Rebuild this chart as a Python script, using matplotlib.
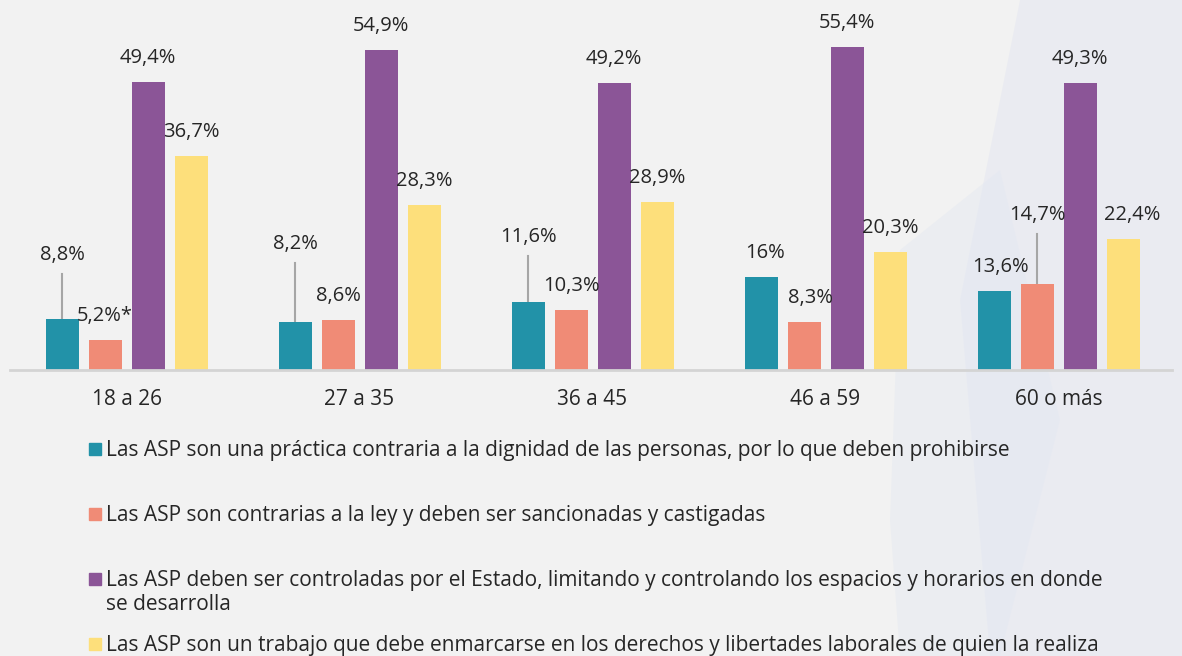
import matplotlib

matplotlib.use("Agg")
import matplotlib.pyplot as plt  # noqa: E402
import numpy as np  # noqa: E402
from matplotlib.patches import Rectangle  # noqa: E402

plt.rcParams["font.family"] = ["Open Sans", "DejaVu Sans"]

groups = ["18 a 26", "27 a 35", "36 a 45", "46 a 59", "60 o más"]
dignidad = [8.8, 8.2, 11.6, 16.0, 13.6]
ley = [5.2, 8.6, 10.3, 8.3, 14.7]
estado = [49.4, 54.9, 49.2, 55.4, 49.3]
trabajo = [36.7, 28.3, 28.9, 20.3, 22.4]
labels = [
    ["8,8%", "8,2%", "11,6%", "16%", "13,6%"],
    ["5,2%*", "8,6%", "10,3%", "8,3%", "14,7%"],
    ["49,4%", "54,9%", "49,2%", "55,4%", "49,3%"],
    ["36,7%", "28,3%", "28,9%", "20,3%", "22,4%"],
]
legend_text = [
    "Las ASP son una práctica contraria a la dignidad de las personas, por lo que deben prohibirse",
    "Las ASP son contrarias a la ley y deben ser sancionadas y castigadas",
    "Las ASP deben ser controladas por el Estado, limitando y controlando los espacios y horarios en donde\nse desarrolla",
    "Las ASP son un trabajo que debe enmarcarse en los derechos y libertades laborales de quien la realiza",
]
colors = ["#2292a8", "#f08b76", "#8b5597", "#fddf7b"]
series = [dignidad, ley, estado, trabajo]

# labels lifted with a leader line: (series, group) -> pixel lift
raised = {(0, 0): 64, (0, 1): 78, (0, 2): 65, (1, 4): 69}
shifted = {(0, 4): 6, (3, 4): 9, (0, 3): 4, (1, 3): 6}

W, H = 1182, 656
fig = plt.figure(figsize=(W / 100, H / 100), dpi=100)
fig.patch.set_facecolor("#f2f2f2")

# faint watermark shapes in the background
bg = fig.add_axes([0, 0, 1, 1], zorder=-5)
bg.set_xlim(0, W)
bg.set_ylim(H, 0)
bg.axis("off")
bg.add_patch(plt.Polygon([[1020, 0], [1182, 0], [1182, 656], [990, 656], [960, 300]],
                         color="#e2e4f0", alpha=0.45, lw=0))
bg.add_patch(plt.Polygon([[890, 520], [900, 250], [1000, 170], [1060, 420], [1000, 656], [900, 656]],
                         color="#e3e8f1", alpha=0.45, lw=0))

ax = fig.add_axes([10 / W, 1 - 370 / H, 1162 / W, 370 / H])
ax.set_facecolor("none")
x = np.arange(len(groups))
offs = np.array([-64.5, -21.5, 21.5, 64.5]) / 233
bw = 33 / 233
ppu = 370 / 63.46  # pixels per percent unit

for i, (vals, c) in enumerate(zip(series, colors)):
    ax.bar(x + offs[i], vals, width=bw, color=c, zorder=2)
    for j, v in enumerate(vals):
        xc = x[j] + offs[i]
        lift = raised.get((i, j), 24)
        ax.annotate(labels[i][j], (xc, v), xytext=(shifted.get((i, j), 0), lift),
                    textcoords="offset pixels", ha="center", va="center",
                    fontsize=14.5, color="#262626", zorder=4)
        if (i, j) in raised:
            ax.plot([xc, xc], [v, v + (lift - 19) / ppu], color="#a6a6a6",
                    lw=1.5, zorder=1)

ax.set_xlim(-0.5, 4.487)
ax.set_ylim(0, 63.46)
ax.set_yticks([])
ax.set_xticks(x)
ax.set_xticklabels(groups, fontsize=15, color="#262626")
ax.tick_params(axis="x", length=0, pad=14)
for s in ["top", "left", "right"]:
    ax.spines[s].set_visible(False)
ax.spines["bottom"].set_color("#d4d4d4")
ax.spines["bottom"].set_linewidth(2)

# legend, drawn row by row
rows_y = [449, 514, 579, 644]
for txt, c, y in zip(legend_text, colors, rows_y):
    fig.patches.append(Rectangle((89 / W, 1 - (y + 6) / H), 12 / W, 12 / H,
                                 color=c, transform=fig.transFigure, figure=fig))
    fig.text(106 / W, 1 - (y - 9) / H, txt, fontsize=15, color="#262626",
             va="top", ha="left", linespacing=1.2)

fig.savefig("out.png", dpi=100, facecolor=fig.get_facecolor())
